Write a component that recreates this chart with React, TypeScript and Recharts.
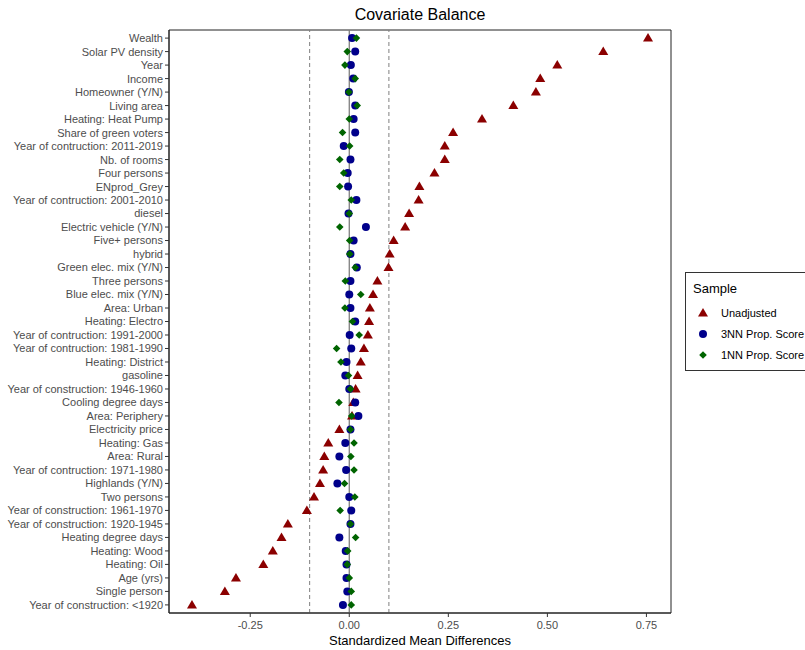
import React from "react";
import {
  ScatterChart,
  Scatter,
  XAxis,
  YAxis,
  ReferenceLine,
  ReferenceArea,
  Legend,
} from "recharts";

const covariates = [
  "Wealth",
  "Solar PV density",
  "Year",
  "Income",
  "Homeowner (Y/N)",
  "Living area",
  "Heating: Heat Pump",
  "Share of green voters",
  "Year of contruction: 2011-2019",
  "Nb. of rooms",
  "Four persons",
  "ENprod_Grey",
  "Year of contruction: 2001-2010",
  "diesel",
  "Electric vehicle (Y/N)",
  "Five+ persons",
  "hybrid",
  "Green elec. mix (Y/N)",
  "Three persons",
  "Blue elec. mix (Y/N)",
  "Area: Urban",
  "Heating: Electro",
  "Year of contruction: 1991-2000",
  "Year of contruction: 1981-1990",
  "Heating: District",
  "gasoline",
  "Year of construction: 1946-1960",
  "Cooling degree days",
  "Area: Periphery",
  "Electricity price",
  "Heating: Gas",
  "Area: Rural",
  "Year of contruction: 1971-1980",
  "Highlands (Y/N)",
  "Two persons",
  "Year of construction: 1961-1970",
  "Year of construction: 1920-1945",
  "Heating degree days",
  "Heating: Wood",
  "Heating: Oil",
  "Age (yrs)",
  "Single person",
  "Year of construction: <1920",
];

const unadjusted = [
  0.754, 0.641, 0.525, 0.482, 0.471, 0.414, 0.335, 0.262, 0.241, 0.241, 0.215,
  0.177, 0.175, 0.151, 0.141, 0.112, 0.102, 0.099, 0.071, 0.06, 0.052, 0.05,
  0.047, 0.037, 0.029, 0.021, 0.016, 0.01, 0.007, -0.025, -0.053, -0.063,
  -0.066, -0.074, -0.089, -0.107, -0.155, -0.171, -0.193, -0.217, -0.286,
  -0.314, -0.397,
];

const nn3 = [
  0.007, 0.015, 0.004, 0.01, -0.001, 0.015, 0.011, 0.015, -0.014, 0.003, -0.004,
  -0.003, 0.018, -0.002, 0.042, 0.011, 0.003, 0.019, 0.003, 0.0, 0.003, 0.015,
  0.001, 0.005, -0.007, -0.01, 0.0, 0.015, 0.023, 0.003, -0.01, -0.025, -0.008,
  -0.03, 0.0, 0.005, 0.003, -0.025, -0.009, -0.007, -0.007, -0.005, -0.016,
];

const nn1 = [
  0.018, -0.005, -0.011, 0.015, -0.001, 0.02, 0.0, -0.017, 0.001, -0.024,
  -0.014, -0.024, 0.005, 0.0, -0.024, 0.001, 0.001, 0.015, -0.01, 0.029,
  -0.011, 0.008, 0.025, -0.032, -0.021, -0.002, 0.003, -0.026, 0.006, 0.003,
  0.012, 0.004, 0.012, -0.012, 0.014, -0.023, 0.003, 0.016, -0.004, -0.005, 0.0,
  0.005, 0.005,
];

const xTicks = [-0.25, 0, 0.25, 0.5, 0.75];

const RED = "#8B0000";
const BLUE = "#00008B";
const GREEN = "#006400";
const FONT = "'Liberation Sans', Arial, sans-serif";

const toPoints = (vals: number[]) =>
  vals.map((v, i) => ({ idx: i, smd: v, name: covariates[i] }));

const Triangle = (p: any) => (
  <polygon
    points={`${p.cx},${p.cy - 5} ${p.cx - 5},${p.cy + 3.5} ${p.cx + 5},${p.cy + 3.5}`}
    fill={RED}
  />
);
const Dot = (p: any) => <circle cx={p.cx} cy={p.cy} r={4} fill={BLUE} />;
const Diamond = (p: any) => (
  <polygon
    points={`${p.cx},${p.cy - 3.8} ${p.cx + 3.8},${p.cy} ${p.cx},${p.cy + 3.8} ${p.cx - 3.8},${p.cy}`}
    fill={GREEN}
  />
);

// single-line covariate labels (the default tick wraps long names)
const CovariateTick = (p: any) => (
  <text
    x={p.x}
    y={p.y}
    dy="0.36em"
    textAnchor="end"
    fill="#4d4d4d"
    fontSize={11}
    fontFamily={FONT}
  >
    {covariates[p.payload.value]}
  </text>
);

const legendItems = [
  { label: "Unadjusted", icon: <polygon points="6,1 1,9.5 11,9.5" fill={RED} /> },
  { label: "3NN Prop. Score", icon: <circle cx={6} cy={6} r={4} fill={BLUE} /> },
  { label: "1NN Prop. Score", icon: <polygon points="6,2.2 9.8,6 6,9.8 2.2,6" fill={GREEN} /> },
];

const renderLegend = () => (
  <div
    style={{
      position: "relative",
      boxSizing: "border-box",
      width: 135,
      height: 99,
      border: "1px solid #333",
      background: "#fff",
      fontFamily: FONT,
      color: "#000",
    }}
  >
    <div style={{ position: "absolute", left: 7, top: 8, fontSize: 13, lineHeight: "16px" }}>
      Sample
    </div>
    {legendItems.map((it, i) => (
      <div
        key={it.label}
        style={{
          position: "absolute",
          left: 11,
          top: 33 + i * 21,
          height: 13,
          display: "flex",
          alignItems: "center",
          fontSize: 11,
          whiteSpace: "nowrap",
        }}
      >
        <svg width={12} height={12} style={{ marginRight: 12 }}>
          {it.icon}
        </svg>
        {it.label}
      </div>
    ))}
  </div>
);

export default function App() {
  return (
    <div
      style={{
        position: "absolute",
        left: 0,
        top: 0,
        width: 805,
        height: 650,
        overflow: "hidden",
        background: "#fff",
        fontFamily: FONT,
      }}
    >
      <div
        style={{
          position: "absolute",
          left: 169,
          width: 502,
          top: 6,
          textAlign: "center",
          fontSize: 16,
          lineHeight: "18px",
          color: "#000",
        }}
      >
        Covariate Balance
      </div>
      <ScatterChart
        width={805}
        height={650}
        margin={{ top: 30, right: 134, bottom: 0, left: 0 }}
      >
        <XAxis
          type="number"
          dataKey="smd"
          domain={[-0.455, 0.812]}
          allowDataOverflow
          ticks={xTicks}
          tickFormatter={(v: number) => v.toFixed(2)}
          height={37}
          tickSize={4}
          tickMargin={4}
          tick={{ fill: "#4d4d4d", fontSize: 11 }}
          tickLine={{ stroke: "#333" }}
          axisLine={{ stroke: "#222" }}
          label={{
            value: "Standardized Mean Differences",
            position: "insideBottom",
            offset: 5,
            fill: "#000",
            fontSize: 13,
          }}
        />
        <YAxis
          type="number"
          dataKey="idx"
          reversed
          domain={[-0.6, 42.6]}
          allowDataOverflow
          ticks={covariates.map((_, i) => i)}
          interval={0}
          width={169}
          tickSize={4}
          tick={CovariateTick}
          tickLine={{ stroke: "#333" }}
          axisLine={{ stroke: "#222" }}
        />
        <ReferenceArea
          x1={-0.455}
          x2={0.812}
          y1={-0.6}
          y2={42.6}
          fill="none"
          stroke="#222"
          strokeWidth={1}
        />
        <ReferenceLine x={0} stroke="#7f7f7f" strokeWidth={1.3} />
        <ReferenceLine x={-0.1} stroke="#7f7f7f" strokeDasharray="4 3" />
        <ReferenceLine x={0.1} stroke="#7f7f7f" strokeDasharray="4 3" />
        <Scatter
          name="Unadjusted"
          data={toPoints(unadjusted)}
          shape={Triangle}
          isAnimationActive={false}
        />
        <Scatter
          name="3NN Prop. Score"
          data={toPoints(nn3)}
          shape={Dot}
          isAnimationActive={false}
        />
        <Scatter
          name="1NN Prop. Score"
          data={toPoints(nn1)}
          shape={Diamond}
          isAnimationActive={false}
        />
        <Legend
          layout="vertical"
          align="center"
          verticalAlign="middle"
          content={renderLegend}
          wrapperStyle={{ left: 685, top: 272, width: 135, height: 99 }}
        />
      </ScatterChart>
    </div>
  );
}
